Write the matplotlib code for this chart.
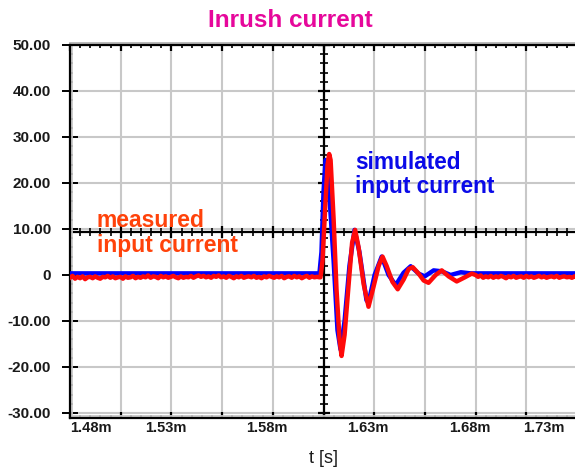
import numpy as np
import matplotlib
matplotlib.use('Agg')
import matplotlib.pyplot as plt
from matplotlib.transforms import ScaledTranslation

plt.rcParams['font.family'] = ['Liberation Sans', 'DejaVu Sans']

# ---------------- data (time in ms, current in A) ----------------
sim_t = [1.4800, 1.6030, 1.6040, 1.6050, 1.6060, 1.6075, 1.6100, 1.6119, 1.6134,
         1.6154, 1.6178, 1.6203, 1.6227, 1.6262, 1.6272, 1.6302, 1.6337, 1.6371,
         1.6406, 1.6445, 1.6480, 1.6519, 1.6549, 1.6593, 1.6633, 1.6677, 1.6727,
         1.6776, 1.7300]
sim_i = [0.35, 0.35, 5.0, 18.0, 25.0, 20.0, 3.0, -12.0, -16.2,
         -10.0, 2.0, 9.8, 5.0, -5.5, -6.0, 0.0, 4.0, 0.0,
         -2.2, 0.5, 1.9, 0.3, -0.3, 1.0, 0.8, 0.0, 0.6,
         0.35, 0.35]

meas_pre_start, meas_pre_end = 1.4800, 1.6030
meas_pre_vals = [-0.6, -0.2, -0.8, -0.4, -0.7, -0.3, -0.9, -0.5, -0.4, -0.7,
                 -0.3, -0.6, -0.8, -0.4, -0.5, -0.2, -0.6, -0.3, -0.7, -0.5,
                 -0.4, -0.8, -0.3, -0.6, -0.5, -0.2, -0.7, -0.4, -0.6, -0.3,
                 -0.5, -0.1, -0.6, -0.3, -0.4, -0.7, -0.2, -0.5, -0.3, -0.6,
                 -0.4, -0.2, -0.5, -0.7, -0.3, -0.6, -0.4, -0.5, -0.2, -0.6,
                 -0.3, -0.1, -0.4, -0.2, -0.5, -0.3, -0.6, -0.2, -0.4, -0.1,
                 -0.5, -0.3, -0.6, -0.2, -0.4, -0.7, -0.3, -0.5, -0.2, -0.6,
                 -0.4, -0.3, -0.5, -0.2, -0.6, -0.4, -0.7, -0.3, -0.5, -0.2,
                 -0.4, -0.6, -0.3, -0.5, -0.2, -0.7, -0.4, -0.3, -0.6, -0.2,
                 -0.5, -0.3, -0.7, -0.4, -0.2, -0.6, -0.3, -0.5, -0.4, -0.5]

meas_t_tr = [1.6035, 1.6045, 1.6060, 1.6070, 1.6078, 1.6085, 1.6100, 1.6114, 1.6129,
             1.6139, 1.6154, 1.6174, 1.6191, 1.6206, 1.6223, 1.6248, 1.6272, 1.6297,
             1.6322, 1.6341, 1.6361, 1.6390, 1.6416, 1.6445, 1.6470, 1.6490, 1.6519,
             1.6544, 1.6568, 1.6603, 1.6633, 1.6667, 1.6707, 1.6747, 1.6781]
meas_i_tr = [-0.5, 3.0, 16.0, 24.0, 26.3, 25.0, 12.0, -3.0, -14.0,
             -17.6, -13.0, -2.0, 7.0, 9.8, 6.0, -2.0, -6.9, -2.5,
             2.0, 4.0, 2.0, -1.5, -3.1, -1.0, 1.3, 1.7, 0.3,
             -1.2, -1.7, 0.0, 1.0, -0.3, -1.4, -0.5, 0.3]

meas_post_start, meas_post_end = 1.6800, 1.7300
meas_post_vals = [0.0, -0.4, -0.1, -0.6, -0.3, -0.5, -0.2, -0.6, -0.3, -0.5,
                  -0.2, -0.4, -0.7, -0.3, -0.5, -0.2, -0.6, -0.4, -0.3, -0.6,
                  -0.2, -0.5, -0.3, -0.6, -0.4, -0.2, -0.5, -0.3, -0.6, -0.4,
                  -0.3, -0.5, -0.2, -0.6, -0.4, -0.3, -0.5, -0.4, -0.6, -0.3,
                  -0.5]

y_ticks = [50, 40, 30, 20, 10, 0, -10, -20, -30]
y_labels = ['50.00', '40.00', '30.00', '20.00', '10.00', '0', '-10.00', '-20.00', '-30.00']
x_grid = [1.48, 1.505, 1.53, 1.555, 1.58, 1.605, 1.63, 1.655, 1.68, 1.705, 1.73]
x_labels = ['1.48m', '', '1.53m', '', '1.58m', '', '1.63m', '', '1.68m', '', '1.73m']

title = 'Inrush current'
xlabel = 't [s]'
sim_label = 'simulated\ninput current'
meas_label = 'measured\ninput current'

# ---------------- figure ----------------
W, H = 575, 468
fig = plt.figure(figsize=(W / 100, H / 100), dpi=100)
ax = fig.add_axes([70 / W, 50 / H, 507 / W, 373 / H])
x0, x1 = 1.48, 1.73
y0, y1 = -31.09, 50.0
ax.set_xlim(x0, x1)
ax.set_ylim(y0, y1)

# grid
for xg in x_grid:
    ax.axvline(xg, color='#c8c8c8', lw=1.5, zorder=1)
for yt in y_ticks:
    ax.axhline(yt, color='#c8c8c8', lw=1.5, zorder=1)

# centre graticule lines with ticks
xc = 1.605
yc = (y0 + y1) / 2
ax.axhline(yc, color='k', lw=1.6, zorder=2)
ax.axvline(xc, color='k', lw=1.6, zorder=2)
xminor = np.arange(x0, x1 + 1e-9, 0.005)
ax.plot(xminor, np.full(len(xminor), yc), ls='none', marker='|', ms=5.5, mew=1.2, color='k', zorder=2)
ax.plot(x_grid, np.full(len(x_grid), yc), ls='none', marker='|', ms=9, mew=1.6, color='k', zorder=2)
yminor = np.arange(-30, 50.1, 2)
ax.plot(np.full(len(yminor), xc), yminor, ls='none', marker='_', ms=5.5, mew=1.2, color='k', zorder=2)
ax.plot(np.full(len(y_ticks), xc), y_ticks, ls='none', marker='_', ms=9, mew=1.6, color='k', zorder=2)

# data
meas_pre_t = np.linspace(meas_pre_start, meas_pre_end, len(meas_pre_vals))
meas_post_t = np.linspace(meas_post_start, meas_post_end, len(meas_post_vals))
meas_t = np.concatenate([meas_pre_t, meas_t_tr, meas_post_t])
meas_i = np.concatenate([meas_pre_vals, meas_i_tr, meas_post_vals])
ax.plot(sim_t, sim_i, color='#0000ff', lw=3.2, zorder=3, solid_joinstyle='round')
ax.plot(meas_t, meas_i, color='#ff0a0a', lw=3.2, zorder=4, solid_joinstyle='round')

# spines
for s in ['left', 'top', 'bottom']:
    ax.spines[s].set_linewidth(1.6)
    ax.spines[s].set_color('k')
ax.spines['right'].set_visible(False)

# gray frame lines
off_top = ax.transAxes + ScaledTranslation(0, 1.6 / 100, fig.dpi_scale_trans)
ax.plot([0, 1], [1, 1], transform=off_top, color='#b4b4b4', lw=1.3, clip_on=False)
off_left = ax.transAxes + ScaledTranslation(2.0 / 100, 0, fig.dpi_scale_trans)
ax.plot([0, 0], [0, 1], transform=off_left, color='#c8c8c8', lw=1.3, clip_on=False)
off_bot = ax.transAxes + ScaledTranslation(0, 2.0 / 100, fig.dpi_scale_trans)
ax.plot([0, 1], [0, 0], transform=off_bot, color='#c8c8c8', lw=1.3, clip_on=False)

# ticks
ax.set_yticks(y_ticks)
ax.set_yticklabels(y_labels)
ax.set_yticks(yminor, minor=True)
ax.tick_params(axis='y', which='major', direction='inout', length=11, width=1.4,
               pad=8.3, labelsize=11)
ax.tick_params(axis='y', which='minor', direction='in', length=2.5, width=1.2)
ax.set_xticks(x_grid)
ax.set_xticklabels(x_labels)
ax.set_xticks(xminor, minor=True)
ax.tick_params(axis='x', which='major', direction='in', length=4.5, width=1.6,
               top=True, pad=2, labelsize=10.5)
ax.tick_params(axis='x', which='minor', direction='in', length=2.5, width=1.2, top=True)
for lab in ax.get_yticklabels():
    lab.set_fontweight('bold')
    lab.set_color('#1a1a1a')
xl = ax.get_xticklabels()
for i, lab in enumerate(xl):
    lab.set_fontweight('bold')
    lab.set_color('#1a1a1a')
    dx = -6
    if i == 0:
        lab.set_ha('left')
        dx = 0
    elif i == len(xl) - 1:
        lab.set_ha('right')
        dx = -12
    lab.set_transform(lab.get_transform() + ScaledTranslation(dx / 100, 0, fig.dpi_scale_trans))

# texts
fig.text(290 / W, 1 - 27 / H, title, ha='center', va='baseline', fontsize=17.5,
         fontweight='bold', color='#e6079b')
fig.text(323.5 / W, 1 - 463 / H, xlabel, ha='center', va='baseline', fontsize=13,
         color='#1a1a1a')
fig.text(355 / W, 1 - 151 / H, sim_label, ha='left', va='top', fontsize=16.3,
         fontweight='bold', color='#0a0ae8', linespacing=1.08)
fig.text(97 / W, 1 - 209 / H, meas_label, ha='left', va='top', fontsize=16.5,
         fontweight='bold', color='#ff420a', linespacing=1.1)

fig.savefig('out.png', dpi=100)
